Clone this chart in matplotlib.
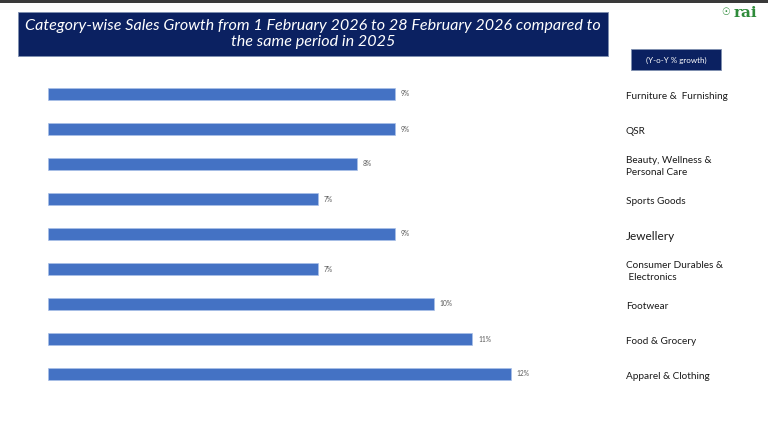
import matplotlib
matplotlib.use('Agg')
import matplotlib.pyplot as plt
from matplotlib.patches import Rectangle
import matplotlib.transforms as mtransforms

plt.rcParams['font.family'] = ['Lato', 'DejaVu Sans']

# 数据（从上到下）
categories = ['Furniture &  Furnishing', 'QSR', 'Beauty, Wellness &\nPersonal Care',
              'Sports Goods', 'Jewellery', 'Consumer Durables &\n Electronics',
              'Footwear', 'Food & Grocery', 'Apparel & Clothing']
growth = [9, 9, 8, 7, 9, 7, 10, 11, 12]
value_labels = ['9%', '9%', '8%', '7%', '9%', '7%', '10%', '11%', '12%']

title = 'Category-wise Sales Growth from 1 February 2026 to 28 February 2026 compared to\nthe same period in 2025'
unit_label = '(Y-o-Y % growth)'

W, H = 768, 434
fig = plt.figure(figsize=(W / 100, H / 100), dpi=100)
fig.patch.set_facecolor('white')

# 顶部灰条
fig.patches.append(Rectangle((0, 1 - 3 / H), 1, 3 / H, transform=fig.transFigure,
                             facecolor='#3a3a3a', edgecolor='none'))

# 标题框
fig.patches.append(Rectangle((18 / W, 1 - 56 / H), 590 / W, 44 / H, transform=fig.transFigure,
                             facecolor='#0b2161', edgecolor='#7f8fb0', linewidth=0.6))
fig.text(313 / W, 1 - 34 / H, title, ha='center', va='center', color='white',
         fontsize=11.6, style='italic', linespacing=1.2)

# 单位框
fig.patches.append(Rectangle((631 / W, 1 - 70 / H), 90 / W, 21 / H, transform=fig.transFigure,
                             facecolor='#0b2161', edgecolor='#7f8fb0', linewidth=0.6))
fig.text(676 / W, 1 - 60 / H, unit_label, ha='center', va='center', color='white', fontsize=5.8)

# logo
fig.text(745 / W, 1 - 13 / H, 'rai', ha='center', va='center', color='#2e8b3a',
         fontsize=11, fontweight='bold', family='DejaVu Serif')
fig.text(726 / W, 1 - 12 / H, '\u2609', ha='center', va='center', color='#2e8b3a',
         fontsize=7, family='DejaVu Sans')

# 条形图
ax = fig.add_axes([48 / W, 1 - 391.5 / H, 540 / W, 315 / H])
ypos = list(range(len(categories)))
ax.barh(ypos, growth, height=0.34, color='#4472c4', edgecolor='#a9c0e8', linewidth=0.5)
ax.set_xlim(0, 14)
ax.set_ylim(len(categories) - 0.5, -0.5)
ax.axis('off')

for y, v, lab in zip(ypos, growth, value_labels):
    ax.text(v + 0.15, y, lab, ha='left', va='center', fontsize=4.8, color='#595959')

trans = mtransforms.blended_transform_factory(fig.transFigure, ax.transData)
for y, cat in zip(ypos, categories):
    size = 8.5 if cat == 'Jewellery' else 7.2
    ax.text(626 / W, y + 0.07, cat, transform=trans, ha='left', va='center',
            fontsize=size, color='#1a1a1a', linespacing=1.5)

fig.savefig('out.png', dpi=100)
